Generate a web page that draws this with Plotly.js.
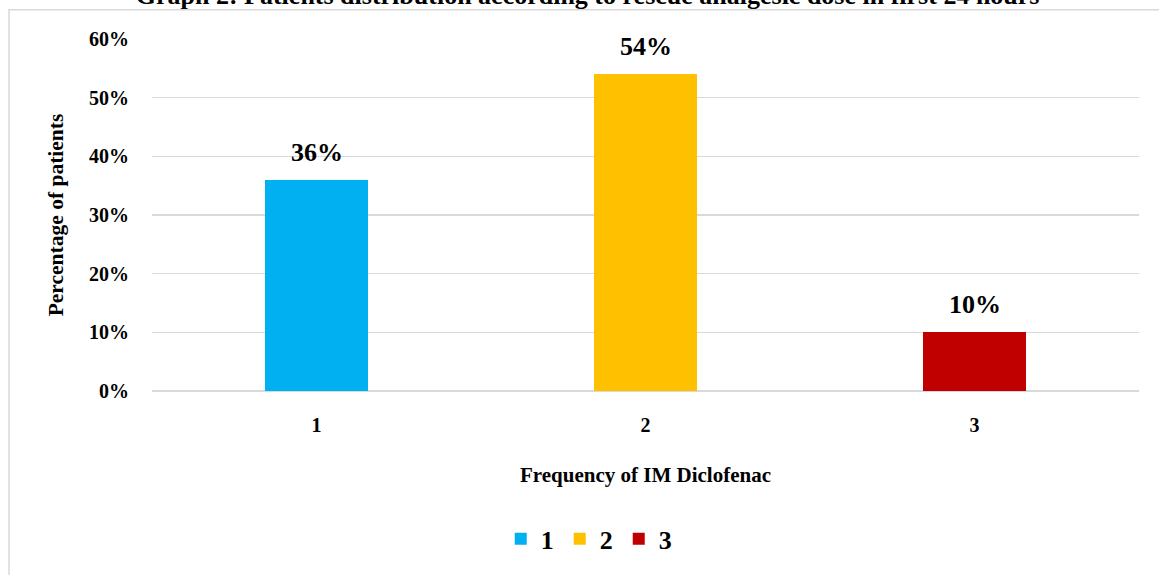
<!DOCTYPE html>
<html>
<head>
<meta charset="utf-8">
<script src="https://cdn.plot.ly/plotly-3.0.1.min.js"></script>
<style>
  html, body { margin: 0; padding: 0; background: #fff; overflow: hidden; }
  #chart { width: 1159px; height: 575px; }
</style>
</head>
<body>
<div id="chart"></div>
<script>
// Rescue analgesic doses (IM Diclofenac) given in the first 24 hours
const categories = ['1', '2', '3'];
const percentages = [0.36, 0.54, 0.10];
const barColors = ['#00B0F0', '#FFC000', '#C00000'];
const yTickValues = [0, 0.1, 0.2, 0.3, 0.4, 0.5, 0.6];
const yTickLabels = ['0%', '10%', '20%', '30%', '40%', '50%', '60%'];

const SERIF = '"Liberation Serif", "Times New Roman", Times, serif';

// One trace per category so each gets its own legend entry and colour
const traces = categories.map((cat, i) => ({
  type: 'bar',
  name: cat,
  x: [cat],
  y: [percentages[i]],
  width: 0.316,
  marker: { color: barColors[i] },
  hoverinfo: 'x+y'
}));

// Value labels sitting above each bar (x given as the category index)
const valueLabels = categories.map((cat, i) => ({
  x: i,
  y: percentages[i],
  xref: 'x',
  yref: 'y',
  text: Math.round(percentages[i] * 100) + '%',
  showarrow: false,
  yanchor: 'bottom',
  yshift: 11,
  font: { family: SERIF, size: 26, color: '#000', weight: 'bold' }
}));

const layout = {
  width: 1159,
  height: 575,
  margin: { l: 152, r: 20, t: 39, b: 182 },
  paper_bgcolor: '#ffffff',
  plot_bgcolor: '#ffffff',
  font: { family: SERIF, color: '#000', weight: 'bold' },
  title: {
    text: 'Graph 2: Patients distribution according to rescue analgesic dose in first 24 hours',
    font: { family: SERIF, size: 26, color: '#000', weight: 'bold' },
    xref: 'container',
    yref: 'container',
    x: 0.507,
    xanchor: 'center',
    y: 1 - 4 / 575,
    yanchor: 'bottom',
    pad: { t: 0, b: 0 }
  },
  barmode: 'overlay',
  bargap: 0,
  showlegend: true,
  legend: {
    orientation: 'h',
    x: 0.443,
    xanchor: 'center',
    y: -0.42,
    yanchor: 'middle',
    entrywidth: 14,
    font: { family: SERIF, size: 26, color: '#000', weight: 'bold' },
    traceorder: 'normal'
  },
  xaxis: {
    type: 'category',
    categoryorder: 'array',
    categoryarray: categories,
    range: [-0.5, 2.5],
    showgrid: false,
    zeroline: false,
    showline: false,
    ticks: '',
    ticklabelstandoff: 20,
    tickfont: { family: SERIF, size: 20, color: '#000', weight: 'bold' },
    title: {
      text: 'Frequency of IM Diclofenac',
      font: { family: SERIF, size: 21, color: '#000', weight: 'bold' },
      standoff: 32
    }
  },
  yaxis: {
    range: [0, 0.6],
    tickvals: yTickValues,
    ticktext: yTickLabels,
    showgrid: true,
    gridcolor: '#d9d9d9',
    gridwidth: 1.5,
    zeroline: true,
    zerolinecolor: '#d9d9d9',
    zerolinewidth: 1.5,
    showline: false,
    ticks: '',
    ticklabelstandoff: 22,
    tickfont: { family: SERIF, size: 20, color: '#000', weight: 'bold' },
    title: {
      text: 'Percentage of patients',
      font: { family: SERIF, size: 21.5, color: '#000', weight: 'bold' },
      standoff: 19
    }
  },
  annotations: valueLabels,
  shapes: [{
    // chart-area border
    type: 'rect',
    xref: 'paper',
    yref: 'paper',
    x0: (9 - 152) / 987,
    x1: 1.5,
    y0: -1,
    y1: (393 - 9.5) / 354,
    line: { color: '#d9d9d9', width: 1.5 },
    fillcolor: 'rgba(0,0,0,0)',
    layer: 'below'
  }]
};

Plotly.newPlot('chart', traces, layout, { displayModeBar: false, staticPlot: true });
</script>
</body>
</html>
